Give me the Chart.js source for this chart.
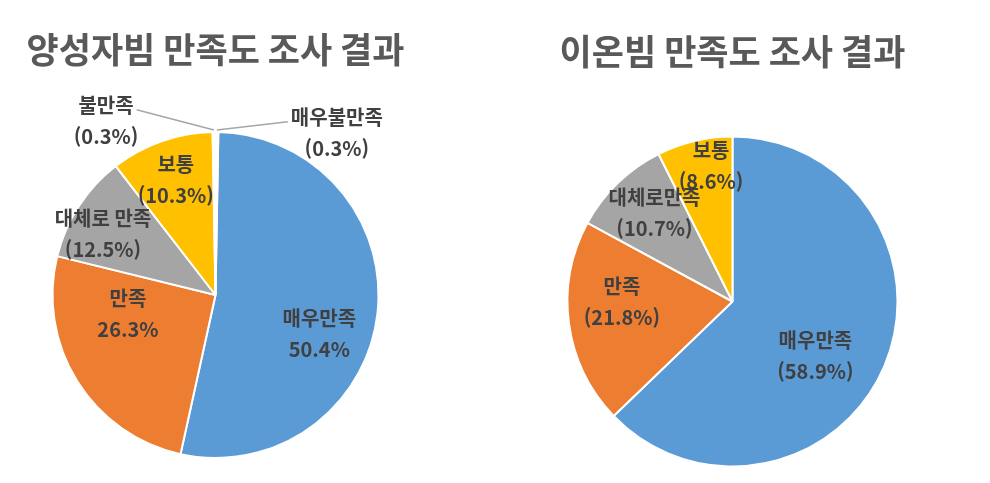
<!DOCTYPE html>
<html lang="ko">
<head>
<meta charset="utf-8">
<title>만족도 조사 결과</title>
<script src="https://cdn.jsdelivr.net/npm/chart.js@4/dist/chart.umd.min.js"></script>
<style>
  html, body { margin: 0; padding: 0; background: #ffffff; }
  #wrap { position: relative; width: 990px; height: 483px; overflow: hidden; }
  canvas { position: absolute; top: 0; }
  #proton-chart { left: 0; }
  #ion-chart { left: 495px; }
</style>
</head>
<body>
<div id="wrap">
  <canvas id="proton-chart" width="431" height="483"></canvas>
  <canvas id="ion-chart" width="475" height="483"></canvas>
</div>
<script>
// 데이터
const protonTitle = '양성자빔 만족도 조사 결과';
const ionTitle = '이온빔 만족도 조사 결과';

const protonCategories = ['매우만족', '만족', '대체로 만족', '보통', '불만족', '매우불만족'];
const ionCategories = ['매우만족', '만족', '대체로만족', '보통'];

// 레이블에 적힌 비율 (%)
const protonPercents = [50.4, 26.3, 12.5, 10.3, 0.3, 0.3];
const ionPercents = [58.9, 21.8, 10.7, 8.6];

// 그림에서 읽은 조각 크기 (%)
const protonSlices = [53.2, 25.4, 10.7, 10.2, 0.28, 0.28];
const ionSlices = [62.8, 20.1, 9.7, 7.4];

// 색상
const sliceColors = ['#5B9BD5', '#ED7D31', '#A5A5A5', '#FFC000', '#FFFFFF', '#FFFFFF'];
const textColor = '#404040';
const titleColor = '#595959';
const leaderColor = '#A6A6A6';
const fontFamily = '"Noto Sans CJK KR", "Noto Sans", sans-serif';

// 레이블 위치: [조각 중앙각에서의 각도 차이(도), 반지름 비율, 괄호 여부, 지시선 여부]
const protonPlace = [
  [13.8, 0.68, false, false],
  [19.5, 0.55, false, false],
  [-4.6, 0.785, true, false],
  [0.3, 0.746, true, false],
  [-31.7, 1.26, true, true],
  [36.4, 1.24, true, true]
];
const ionPlace = [
  [10.1, 0.60, true, false],
  [7.5, 0.67, true, false],
  [2.7, 0.715, true, false],
  [4.3, 0.83, true, false]
];

// 조각 레이블 플러그인
const sliceLabels = {
  id: 'sliceLabels',
  afterDatasetsDraw(chart, args, opts) {
    const ctx = chart.ctx;
    const meta = chart.getDatasetMeta(0);
    const lineGap = 31;

    ctx.save();
    ctx.font = 'bold 20px ' + fontFamily;
    ctx.fillStyle = textColor;
    ctx.textAlign = 'center';
    ctx.textBaseline = 'middle';

    meta.data.forEach((arc, i) => {
      const p = arc.getProps(['x', 'y', 'startAngle', 'endAngle', 'outerRadius'], true);
      const place = opts.place[i];
      const mid = (p.startAngle + p.endAngle) / 2;
      const a = mid + place[0] * Math.PI / 180;
      const cx = p.x + Math.cos(a) * p.outerRadius * place[1];
      const cy = p.y + Math.sin(a) * p.outerRadius * place[1];

      const pct = opts.percents[i].toFixed(1) + '%';
      const lines = [opts.names[i], place[2] ? '(' + pct + ')' : pct];
      const firstY = cy - lineGap / 2;
      lines.forEach((t, k) => ctx.fillText(t, cx, firstY + k * lineGap));

      // 지시선
      if (place[3]) {
        const w = ctx.measureText(lines[0]).width;
        const sx = cx < p.x ? cx + w / 2 + 3 : cx - w / 2 - 3;
        const sy = firstY + 4;
        const ex = p.x + Math.cos(mid) * (p.outerRadius + 2);
        const ey = p.y + Math.sin(mid) * (p.outerRadius + 2);
        ctx.save();
        ctx.strokeStyle = leaderColor;
        ctx.lineWidth = 1.5;
        ctx.beginPath();
        ctx.moveTo(sx, sy);
        ctx.lineTo(ex, ey);
        ctx.stroke();
        ctx.restore();
      }
    });
    ctx.restore();
  }
};

// 파이 차트 만들기
function makePie(canvasId, title, names, slices, percents, place, rotation, padding) {
  const ctx = document.getElementById(canvasId).getContext('2d');
  return new Chart(ctx, {
    type: 'pie',
    data: {
      labels: names,
      datasets: [{
        data: slices,
        backgroundColor: sliceColors.slice(0, slices.length),
        borderColor: '#ffffff',
        borderWidth: 2
      }]
    },
    options: {
      responsive: false,
      animation: false,
      events: [],
      rotation: rotation,
      layout: { padding: { top: 0, left: 0, right: 0, bottom: padding.bottom } },
      plugins: {
        legend: { display: false },
        tooltip: { enabled: false },
        title: {
          display: true,
          text: title,
          color: titleColor,
          font: { family: fontFamily, size: 35, weight: 'bold' },
          padding: { top: padding.titleTop, bottom: padding.titleBottom }
        },
        sliceLabels: { names: names, percents: percents, place: place }
      }
    },
    plugins: [sliceLabels]
  });
}

makePie('proton-chart', protonTitle, protonCategories, protonSlices, protonPercents, protonPlace, 1,
  { titleTop: 29, titleBottom: 60, bottom: 24 });
makePie('ion-chart', ionTitle, ionCategories, ionSlices, ionPercents, ionPlace, 0,
  { titleTop: 31, titleBottom: 62.5, bottom: 15.5 });
</script>
</body>
</html>
